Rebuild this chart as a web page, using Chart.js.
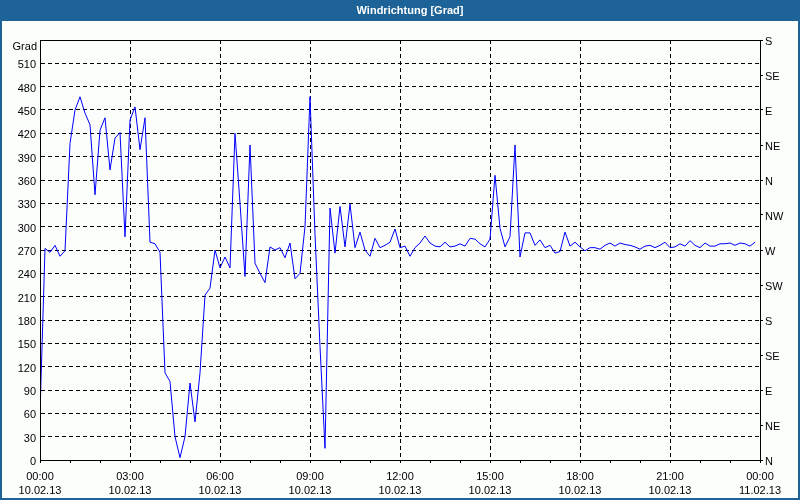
<!DOCTYPE html>
<html lang="de">
<head>
    <meta charset="UTF-8">
    <title>Windrichtung [Grad]</title>
    <script src="https://cdn.jsdelivr.net/npm/chart.js"></script>
    <style>
        html, body { margin: 0; padding: 0; background: #fcfefc; }
        canvas { display: block; }
    </style>
</head>
<body>
    <canvas id="windChart" width="800" height="500"></canvas>

    <script>
        // Chart title and axis label
        const chartTitle = 'Windrichtung [Grad]';
        const leftUnit = 'Grad';

        // one reading every 10 minutes, starting 10.02.13 00:00
        const stepMinutes = 10;
        const directionDeg = [
            60, 272, 267, 276, 262, 269, 407, 450, 467, 446, 431, 341,
            424, 440, 373, 414, 421, 287, 437, 454, 399, 440, 280, 278,
            267, 112, 101, 30, 3, 30, 99, 49, 112, 212, 221, 270,
            247, 261, 247, 420, 330, 236, 405, 253, 240, 228, 274, 270,
            273, 260, 279, 233, 240, 300, 467, 290, 146, 15, 324, 266,
            326, 274, 329, 273, 293, 270, 262, 285, 273, 276, 280, 297,
            273, 275, 262, 273, 279, 288, 279, 275, 274, 280, 274, 275,
            278, 275, 285, 284, 278, 274, 284, 366, 298, 274, 287, 405,
            261, 292, 292, 276, 283, 273, 276, 266, 268, 293, 275, 280,
            274, 269, 273, 273, 271, 276, 279, 275, 279, 277, 276, 274,
            271, 275, 276, 273, 276, 280, 273, 274, 278, 275, 282, 276,
            273, 279, 275, 275, 278, 278, 279, 276, 279, 278, 275, 280
        ];

        // x axis labels every 3 hours
        const timeLabels = ['00:00', '03:00', '06:00', '09:00', '12:00', '15:00', '18:00', '21:00', '00:00'];
        const dateLabels = ['10.02.13', '10.02.13', '10.02.13', '10.02.13', '10.02.13', '10.02.13', '10.02.13', '10.02.13', '11.02.13'];

        // right axis, every 45 degrees
        const compassLabels = ['N', 'NE', 'E', 'SE', 'S', 'SW', 'W', 'NW', 'N', 'NE', 'E', 'SE', 'S'];

        const points = directionDeg.map((v, i) => ({ x: i * stepMinutes, y: v }));

        Chart.defaults.font.family = '"Liberation Sans", Arial, sans-serif';
        Chart.defaults.font.size = 11;
        Chart.defaults.color = '#000';

        // frame, title bar and plot box
        const framePlugin = {
            id: 'frame',
            beforeDraw(chart) {
                const { ctx, width, height } = chart;
                ctx.save();
                ctx.fillStyle = '#fcfefc';
                ctx.fillRect(0, 0, width, height);
                ctx.fillStyle = '#1d6397';
                ctx.fillRect(0, 0, width, 21);
                ctx.fillRect(0, 0, 2, height);
                ctx.fillRect(width - 2, 0, 2, height);
                ctx.fillRect(0, height - 2, width, 2);
                ctx.fillStyle = '#ffffff';
                ctx.font = 'bold 11px "Liberation Sans", Arial, sans-serif';
                ctx.textAlign = 'center';
                ctx.textBaseline = 'middle';
                ctx.fillText(chartTitle, 410, 11);
                ctx.restore();
            },
            afterDraw(chart) {
                const { ctx, chartArea: a } = chart;
                ctx.save();
                ctx.strokeStyle = '#000';
                ctx.lineWidth = 1;
                ctx.strokeRect(a.left + 0.5, a.top + 0.5, a.right - a.left, a.bottom - a.top);
                ctx.fillStyle = '#000';
                ctx.font = '11px "Liberation Sans", Arial, sans-serif';
                ctx.textAlign = 'right';
                ctx.textBaseline = 'middle';
                ctx.fillText(leftUnit, a.left - 3, a.top + 7);
                ctx.restore();
            }
        };

        new Chart(document.getElementById('windChart'), {
            type: 'line',
            data: {
                datasets: [{
                    data: points,
                    borderColor: '#0000ff',
                    borderWidth: 1,
                    pointRadius: 0,
                    tension: 0,
                    fill: false
                }]
            },
            options: {
                responsive: false,
                animation: false,
                layout: { padding: { top: 40, left: 0, right: 0, bottom: 0 } },
                plugins: {
                    legend: { display: false },
                    tooltip: { enabled: false },
                    title: { display: false }
                },
                scales: {
                    x: {
                        type: 'linear',
                        min: 0,
                        max: 1440,
                        afterFit: (s) => { s.height = 40; },
                        border: { color: '#000', dash: [4, 3] },
                        grid: {
                            color: (c) => (c.tick && c.tick.value % 180 === 0 && c.tick.value > 0 && c.tick.value < 1440) ? '#000' : 'rgba(0,0,0,0)',
                            tickColor: '#000',
                            tickLength: 3
                        },
                        ticks: {
                            stepSize: 60,
                            autoSkip: false,
                            maxRotation: 0,
                            padding: 6,
                            font: { lineHeight: 1.36 },
                            callback: (v) => v % 180 === 0 ? [timeLabels[v / 180], dateLabels[v / 180]] : ''
                        }
                    },
                    y: {
                        position: 'left',
                        min: 0,
                        max: 540,
                        afterFit: (s) => { s.width = 40; },
                        border: { color: '#000', dash: [4, 3] },
                        grid: {
                            color: (c) => (c.tick && c.tick.value > 0 && c.tick.value < 540) ? '#000' : 'rgba(0,0,0,0)',
                            drawTicks: false
                        },
                        ticks: {
                            stepSize: 30,
                            autoSkip: false,
                            padding: 4,
                            labelOffset: 2,
                            callback: (v) => v === 540 ? '' : v
                        }
                    },
                    y2: {
                        position: 'right',
                        min: 0,
                        max: 540,
                        afterFit: (s) => { s.width = 40; },
                        border: { color: '#000' },
                        grid: {
                            drawOnChartArea: false,
                            tickColor: '#000',
                            tickLength: 3
                        },
                        ticks: {
                            stepSize: 45,
                            autoSkip: false,
                            padding: 2,
                            labelOffset: 2,
                            callback: (v) => compassLabels[v / 45]
                        }
                    }
                }
            },
            plugins: [framePlugin]
        });
    </script>
</body>
</html>
